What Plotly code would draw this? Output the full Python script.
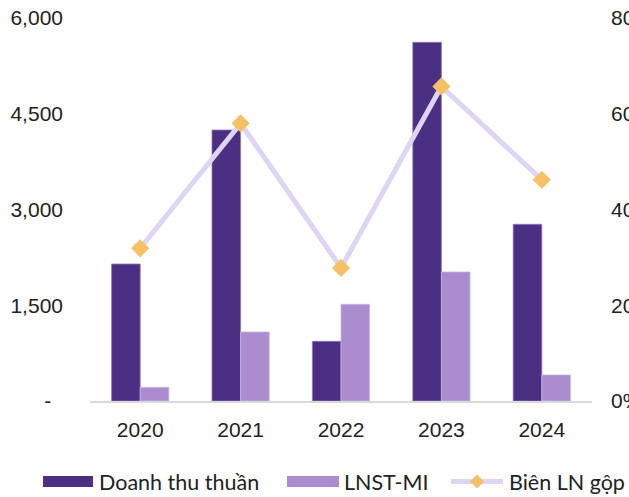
import plotly.graph_objects as go

years = ["2020", "2021", "2022", "2023", "2024"]
doanh_thu = [2146, 4245, 935, 5619, 2768]
lnst_mi = [215, 1081, 1515, 2021, 407]
bien_ln = [0.319, 0.580, 0.278, 0.657, 0.462]

left_ticks = [0, 1500, 3000, 4500, 6000]
left_text = ["-\u00a0\u00a0", "1,500", "3,000", "4,500", "6,000"]
right_ticks = [0, 0.2, 0.4, 0.6, 0.8]
right_text = ["0%", "20%", "40%", "60%", "80%"]

C_DT = "#4A2F82"
C_LN = "#AB8CCE"
C_LINE = "#DED4F3"
C_DIA = "#F4C166"
TICK_FONT = dict(family="Liberation Sans, Arial", size=21, color="#222222")
LEG_FONT = dict(family="Lato", size=21.5, color="#222222")

fig = go.Figure()
fig.add_trace(go.Bar(x=years, y=doanh_thu, name="Doanh thu thuần",
                     marker=dict(color=C_DT, line=dict(color="#8E78BD", width=0.8))))
fig.add_trace(go.Bar(x=years, y=lnst_mi, name="LNST-MI",
                     marker=dict(color=C_LN, line=dict(color="#C7B5E3", width=0.8))))
fig.add_trace(go.Scatter(x=years, y=bien_ln, name="Biên LN gộp", yaxis="y2",
                         mode="lines+markers",
                         line=dict(color=C_LINE, width=5),
                         marker=dict(symbol="diamond", size=14, color=C_DIA)))

W, H = 629, 497
L, R, T, B = 90, 37, 18, 96
pw, ph = W - L - R, H - T - B


def px(x):
    return (x - L) / pw


def py(y):
    return (H - B - y) / ph


shapes = []
annotations = []
# legend item 1
shapes.append(dict(type="rect", xref="paper", yref="paper",
                   x0=px(43), x1=px(93), y0=py(487), y1=py(476),
                   fillcolor=C_DT, line=dict(width=0)))
annotations.append(dict(xref="paper", yref="paper", x=px(97), y=py(481.5),
                        text="Doanh thu thuần", showarrow=False,
                        xanchor="left", yanchor="middle", font=LEG_FONT))
# legend item 2
shapes.append(dict(type="rect", xref="paper", yref="paper",
                   x0=px(287), x1=px(339), y0=py(487), y1=py(476),
                   fillcolor=C_LN, line=dict(width=0)))
annotations.append(dict(xref="paper", yref="paper", x=px(342), y=py(481.5),
                        text="LNST-MI", showarrow=False,
                        xanchor="left", yanchor="middle", font=LEG_FONT))
# legend item 3
shapes.append(dict(type="line", xref="paper", yref="paper",
                   x0=px(451), x1=px(503), y0=py(481.5), y1=py(481.5),
                   line=dict(color=C_LINE, width=5)))
cx, cy, r = 477, 481.5, 7
shapes.append(dict(type="path", xref="paper", yref="paper",
                   path=f"M {px(cx)},{py(cy - r)} L {px(cx + r)},{py(cy)} L {px(cx)},{py(cy + r)} L {px(cx - r)},{py(cy)} Z",
                   fillcolor=C_DIA, line=dict(width=0)))
annotations.append(dict(xref="paper", yref="paper", x=px(507), y=py(481.5),
                        text="Biên LN gộp", showarrow=False,
                        xanchor="left", yanchor="middle", font=LEG_FONT))

fig.update_layout(
    width=W, height=H,
    margin=dict(l=L, r=R, t=T, b=B, autoexpand=False),
    paper_bgcolor="white", plot_bgcolor="white",
    barmode="group", bargap=0.43, bargroupgap=0,
    showlegend=False,
    xaxis=dict(type="category", showgrid=False, showline=True,
               linecolor="#D9D9D9", linewidth=2, ticks="",
               tickfont=TICK_FONT, range=[-0.5, 4.5], fixedrange=True,
               ticklabelstandoff=9),
    yaxis=dict(range=[0, 6000], tickvals=left_ticks, ticktext=left_text,
               showgrid=False, zeroline=False, showline=False, ticks="",
               tickfont=TICK_FONT, ticklabelstandoff=26, automargin=False),
    yaxis2=dict(range=[0, 0.8], tickvals=right_ticks, ticktext=right_text,
                overlaying="y", side="right", showgrid=False, zeroline=False,
                showline=False, ticks="", tickfont=TICK_FONT,
                ticklabelstandoff=18, automargin=False),
    shapes=shapes, annotations=annotations,
)

fig.write_html("out.html")
